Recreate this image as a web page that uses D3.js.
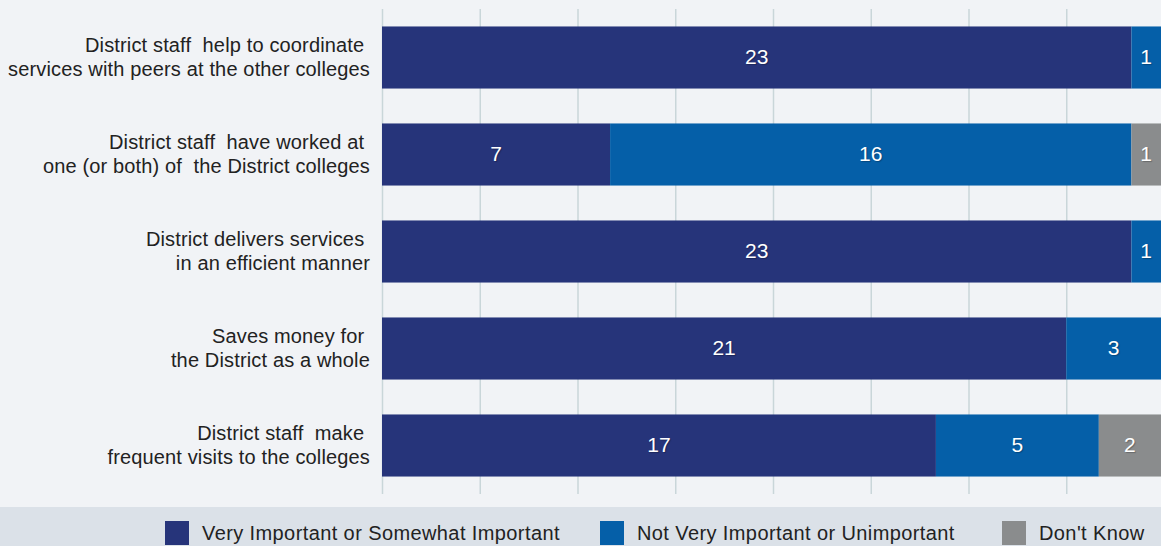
<!DOCTYPE html>
<html><head><meta charset="utf-8">
<script src="https://cdn.jsdelivr.net/npm/d3@7"></script>
<style>
html,body{margin:0;padding:0;background:#f1f3f6;}
svg{display:block;}
text{font-family:"Liberation Sans",Arial,sans-serif;}
</style></head>
<body>
<svg id="chart" width="1161" height="546"></svg>
<script>
const categories = [
  ["District staff  help to coordinate ", "services with peers at the other colleges"],
  ["District staff  have worked at ", "one (or both) of  the District colleges"],
  ["District delivers services ", "in an efficient manner"],
  ["Saves money for ", "the District as a whole"],
  ["District staff  make ", "frequent visits to the colleges"]
];
const seriesNames = ["Very Important or Somewhat Important", "Not Very Important or Unimportant", "Don't Know"];
const veryImportant = [23, 7, 23, 21, 17];
const notImportant = [1, 16, 1, 3, 5];
const dontKnow = [0, 1, 0, 0, 2];
const tickValues = [0, 3, 6, 9, 12, 15, 18, 21, 24];
const colors = ["#26347a", "#055fa8", "#8a8c8d"];

const svg = d3.select("#chart");
const W = 1161, H = 546;

svg.append("rect").attr("x",0).attr("y",0).attr("width",W).attr("height",H).attr("fill","#f1f3f6");
svg.append("rect").attr("x",0).attr("y",507).attr("width",W).attr("height",H-507).attr("fill","#dbe1e8");

const x = d3.scaleLinear().domain([0,24]).range([382,1164]);
const y = d3.scaleBand().domain(d3.range(categories.length)).range([9,494]).paddingInner(0.36).paddingOuter(0.18);

// gridlines
const gridAxis = d3.axisBottom(x).tickValues(tickValues).tickSize(494-9).tickFormat("");
const g = svg.append("g").attr("transform","translate(0,9)").call(gridAxis);
g.select(".domain").remove();
g.selectAll(".tick line").attr("stroke","#c9d6d9").attr("stroke-width",1.5);

// stacked data
const rows = categories.map((c,i)=>({i, v:[veryImportant[i], notImportant[i], dontKnow[i]]}));
const stack = d3.stack().keys([0,1,2]).value((d,k)=>d.v[k]);
const layers = stack(rows);

const clip = svg.append("defs").append("clipPath").attr("id","clip");
clip.append("rect").attr("x",0).attr("y",0).attr("width",W).attr("height",H);

const plot = svg.append("g").attr("clip-path","url(#clip)");
layers.forEach((layer,k)=>{
  plot.selectAll(null).data(layer.filter(d=>d[1]-d[0]>0)).enter().append("rect")
    .attr("x",d=>x(d[0]))
    .attr("y",d=>y(d.data.i))
    .attr("width",d=>x(d[1])-x(d[0]))
    .attr("height",y.bandwidth())
    .attr("fill",colors[k]);
});
layers.forEach((layer,k)=>{
  plot.selectAll(null).data(layer.filter(d=>d[1]-d[0]>0)).enter().append("text")
    .attr("x",d=>(x(d[0])+Math.min(x(d[1]),W))/2)
    .attr("y",d=>y(d.data.i)+y.bandwidth()/2-1)
    .attr("dominant-baseline","central")
    .attr("text-anchor","middle")
    .attr("fill","#ffffff")
    .attr("font-size",21)
    .style("text-shadow","1px 1px 1px rgba(0,0,0,0.25)")
    .text(d=>d[1]-d[0]);
});

// category labels
const lab = svg.append("g");
categories.forEach((c,i)=>{
  const cy = y(i)+y.bandwidth()/2;
  const t = lab.append("text").attr("text-anchor","end").attr("fill","#222222")
    .attr("font-size",20).attr("letter-spacing",0.15).attr("xml:space","preserve").style("white-space","pre");
  t.append("tspan").attr("x",370).attr("y",cy-6).text(c[0]);
  t.append("tspan").attr("x",370).attr("y",cy+18).text(c[1]);
});

// legend
const legendX = [165, 600, 1002];
const leg = svg.append("g");
seriesNames.forEach((n,k)=>{
  leg.append("rect").attr("x",legendX[k]).attr("y",521).attr("width",24).attr("height",24).attr("fill",colors[k]);
  leg.append("text").attr("x",legendX[k]+37).attr("y",540).attr("font-size",20).attr("letter-spacing",0.4).attr("fill","#222222").text(n);
});
</script>
</body></html>
